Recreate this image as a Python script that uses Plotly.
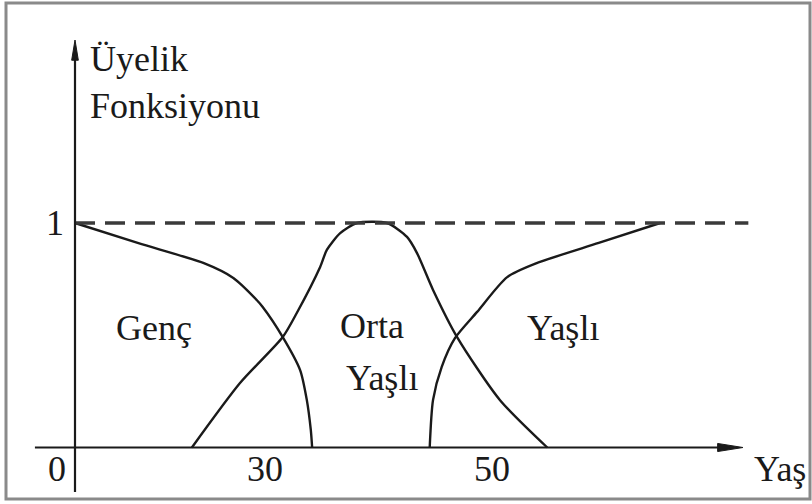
import plotly.graph_objects as go

# schematic fuzzy membership functions for age (x in axis units, y = membership)
genc_x = [0.0, 9.5, 19.2, 23.7, 27.2, 28.1, 31.1, 33.7, 34.7, 35.3, 35.5]
genc_y = [1.0, 0.91, 0.822, 0.755, 0.657, 0.626, 0.492, 0.345, 0.212, 0.078, 0.0]

orta_x = [17.5, 24.7, 31.1, 33.2, 36.7, 37.7, 39.7, 42.2, 46.7, 49.7, 51.2, 53.6, 57.2, 63.6, 70.7]
orta_y = [0.0, 0.287, 0.492, 0.599, 0.804, 0.880, 0.955, 1.0, 1.0, 0.938, 0.866, 0.702, 0.492, 0.212, 0.0]

yasli_x = [53.1, 53.6, 54.9, 56.9, 60.2, 64.7, 69.2, 78.4, 87.6]
yasli_y = [0.0, 0.212, 0.359, 0.488, 0.604, 0.759, 0.822, 0.911, 1.0]

tick_vals = [-2.7, 28.4, 62.4]
tick_text = ['0', '30', '50']

set_labels = ['Genç', 'Orta', 'Yaşlı', 'Yaşlı']
set_label_x = [11.8, 44.5, 45.9, 73.0]
set_label_y = [0.532, 0.541, 0.310, 0.532]

x_axis_end = 100.0
y_axis_end = 1.815

ink = '#1a1a1a'
serif = 'Liberation Serif, Times New Roman, serif'

fig = go.Figure()

for xs, ys in [(genc_x, genc_y), (orta_x, orta_y), (yasli_x, yasli_y)]:
    fig.add_trace(go.Scatter(
        x=xs, y=ys, mode='lines',
        line=dict(color=ink, width=2.4, shape='spline', smoothing=0.7),
        showlegend=False, hoverinfo='skip'
    ))

# dashed line at membership 1
fig.add_shape(type='line', x0=0, x1=100.8, y0=1, y1=1,
              line=dict(color='#3a3a3a', width=3.5, dash='20px,10px'))

# axes drawn by hand
fig.add_shape(type='line', x0=-6.0, x1=x_axis_end - 2, y0=0, y1=0,
              line=dict(color=ink, width=2.2))
fig.add_shape(type='line', x0=0, x1=0, y0=-0.198, y1=y_axis_end - 0.05,
              line=dict(color=ink, width=2.2))
fig.add_shape(type='path',
              path=f'M {x_axis_end - 3.8},-0.018 L {x_axis_end},0 L {x_axis_end - 3.8},0.018 Z',
              fillcolor=ink, line=dict(color=ink, width=1))
fig.add_shape(type='path',
              path=f'M -0.5,{y_axis_end - 0.09} L 0,{y_axis_end} L 0.5,{y_axis_end - 0.09} Z',
              fillcolor=ink, line=dict(color=ink, width=1))

# outer frame
fig.add_shape(type='rect', xref='paper', yref='paper',
              x0=6 / 812, x1=810 / 812, y0=1 - 499 / 504, y1=1 - 3 / 504,
              line=dict(color='#8a8a8a', width=3))

for txt, lx, ly in zip(set_labels, set_label_x, set_label_y):
    fig.add_annotation(x=lx, y=ly, text=txt, showarrow=False,
                       xanchor='center', yanchor='middle',
                       font=dict(family=serif, size=36, color=ink))

for tv, tt in zip(tick_vals, tick_text):
    fig.add_annotation(x=tv, y=-0.096, text=tt, showarrow=False,
                       xanchor='center', yanchor='middle',
                       font=dict(family=serif, size=36, color=ink))

fig.add_annotation(x=-3.0, y=1.0, text='1', showarrow=False,
                   xanchor='center', yanchor='middle',
                   font=dict(family=serif, size=36, color=ink))
fig.add_annotation(x=105.6, y=-0.096, text='Yaş', showarrow=False,
                   xanchor='center', yanchor='middle',
                   font=dict(family=serif, size=36, color=ink))
fig.add_annotation(x=1.9, y=1.73, text='Üyelik', showarrow=False,
                   xanchor='left', yanchor='middle',
                   font=dict(family=serif, size=36, color=ink))
fig.add_annotation(x=1.9, y=1.52, text='Fonksiyonu', showarrow=False,
                   xanchor='left', yanchor='middle',
                   font=dict(family=serif, size=36, color=ink))

fig.update_layout(
    width=812, height=504,
    margin=dict(l=0, r=0, t=0, b=0),
    plot_bgcolor='white', paper_bgcolor='white',
    xaxis=dict(range=[-75 / 6.68, 737 / 6.68], visible=False),
    yaxis=dict(range=[-56.5 / 224.5, 447.5 / 224.5], visible=False),
)

fig.write_html('out.html', config=dict(displayModeBar=False),
               post_script="document.body.style.margin='0';")
